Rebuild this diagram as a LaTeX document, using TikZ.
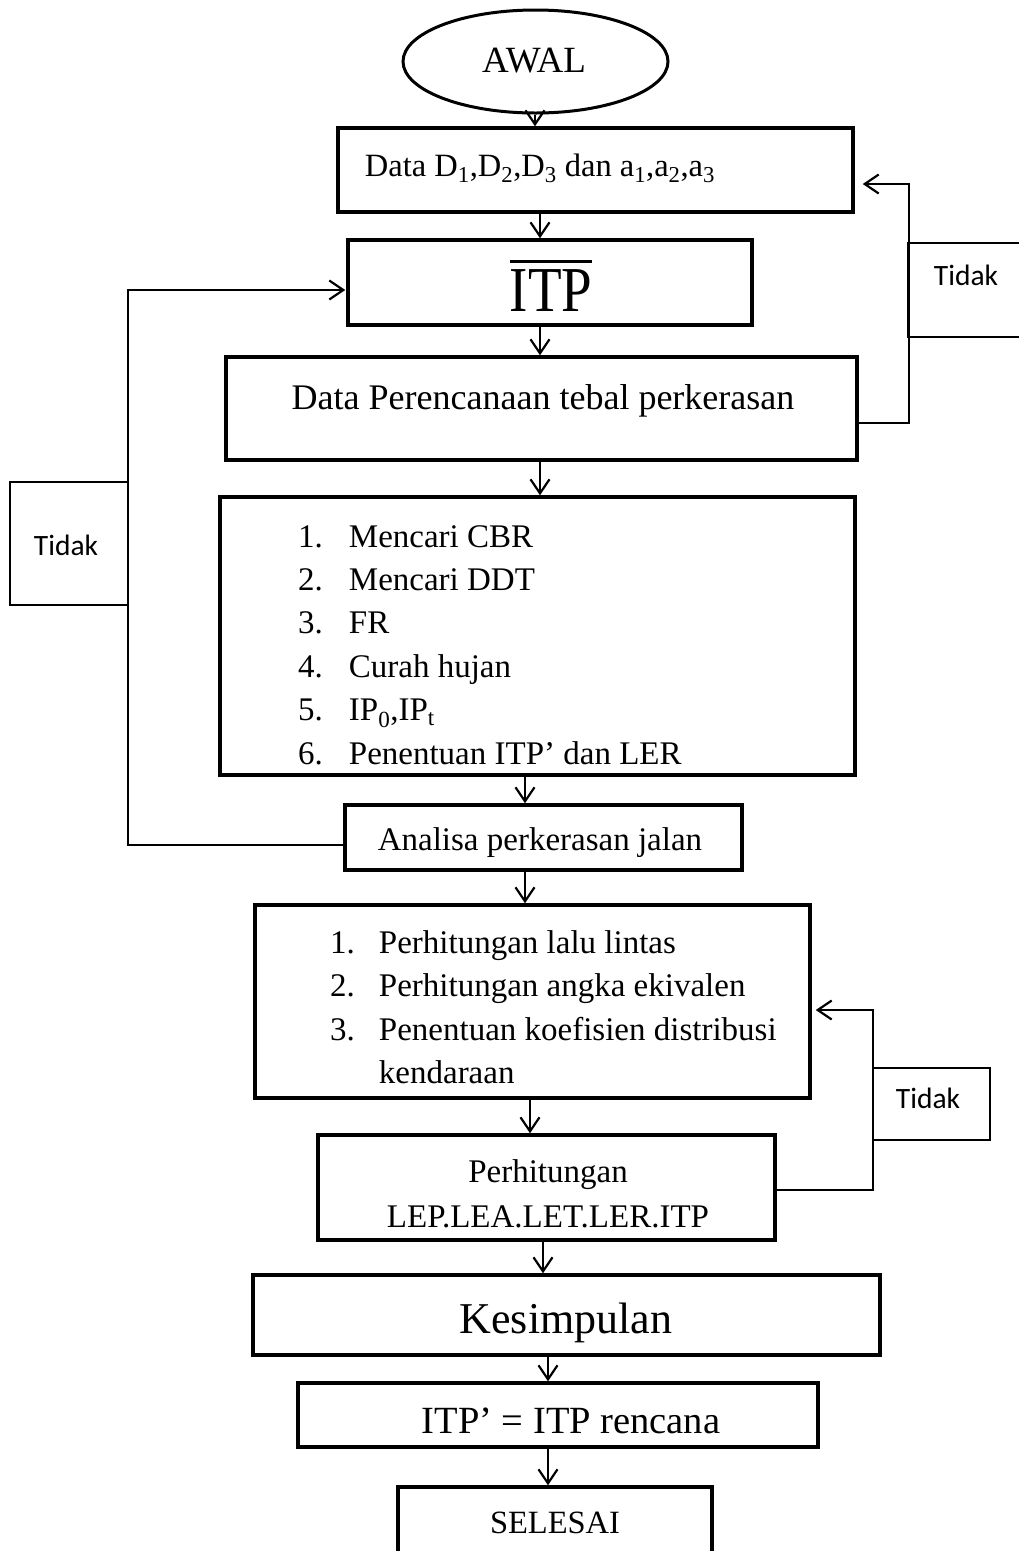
\documentclass[tikz,border=0pt]{standalone}
\usepackage{fontspec}
\usepackage{graphicx}
\setmainfont{Liberation Serif}
\newfontfamily\tidakfont{Carlito}
\usetikzlibrary{arrows.meta,shapes.geometric}
\tikzset{
  box/.style={draw, line width=3.5pt, rectangle, inner sep=0pt},
  tbox/.style={draw, line width=2pt, rectangle, inner sep=0pt},
  txt/.style={inner sep=0pt, anchor=base},
  arr/.style={line width=2.2pt, -{Straight Barb[length=14pt,width=19pt,line width=2.2pt]}},
}
\newcommand{\fs}[1]{\fontsize{#1}{#1}\selectfont}
\newcommand{\myovl}[1]{\begingroup\setbox0\hbox{#1}\rlap{\rule[48pt]{\wd0}{3pt}}\box0\endgroup}
\begin{document}
\begin{tikzpicture}[x=1pt,y=-1pt]
\useasboundingbox (0,0) rectangle (1019,1551);
% oval
\node[draw, line width=3pt, ellipse, minimum width=265pt, minimum height=103pt, inner sep=0pt] (awal) at (535.5,61.5) {};
\node[txt] (awalt) at (534,72) {\fs{37}AWAL};
% boxes
\node[box, minimum width=515pt, minimum height=84pt] (b1) at (595.5,170) {};
\node[txt] (b1t) at (540,176) {\fs{32.5}Data D\textsubscript{1},D\textsubscript{2},D\textsubscript{3} dan a\textsubscript{1},a\textsubscript{2},a\textsubscript{3}};
\node[box, minimum width=404pt, minimum height=85pt] (b2) at (550,282.5) {};
\node[txt] (b2t) at (551,311) {\scalebox{0.86}[1]{\fs{64}\myovl{ITP}}};
\node[box, minimum width=631pt, minimum height=103pt] (b3) at (541.5,408.5) {};
\node[txt] (b3t) at (543,409) {\fs{36}Data Perencanaan tebal perkerasan};
\node[box, minimum width=635pt, minimum height=278pt] (b4) at (537.5,636) {};
\node[inner sep=0pt, anchor=base west] (b4t) at (298,547) {\fontsize{33}{43.4}\selectfont
  \begin{tabular}[t]{@{}r@{\hspace{26pt}}l@{}}
  1. & Mencari CBR\\
  2. & Mencari DDT\\
  3. & FR\\
  4. & Curah hujan\\
  5. & IP\textsubscript{0},IP\textsubscript{t}\\
  6. & Penentuan ITP’ dan LER
  \end{tabular}};
\node[box, minimum width=397pt, minimum height=65pt] (b5) at (543.5,837.5) {};
\node[txt] (b5t) at (540,850) {\fs{33}Analisa perkerasan jalan};
\node[box, minimum width=555pt, minimum height=193pt] (b6) at (532.5,1001.5) {};
\node[inner sep=0pt, anchor=base west] (b6t) at (330,953) {\fontsize{33}{43.5}\selectfont
  \begin{tabular}[t]{@{}r@{\hspace{24pt}}l@{}}
  1. & Perhitungan lalu lintas\\
  2. & Perhitungan angka ekivalen\\
  3. & Penentuan koefisien distribusi\\
     & kendaraan
  \end{tabular}};
\node[box, minimum width=457pt, minimum height=105pt] (b7) at (546.5,1187.5) {};
\node[txt] (b7a) at (548,1182) {\fs{33}Perhitungan};
\node[txt] (b7b) at (548,1227) {\fs{33}LEP.LEA.LET.LER.ITP};
\node[box, minimum width=627pt, minimum height=80pt] (b8) at (566.5,1315) {};
\node[txt] (b8t) at (566,1333) {\fs{44}Kesimpulan};
\node[box, minimum width=520pt, minimum height=64pt] (b9) at (558,1415) {};
\node[txt] (b9t) at (571,1433) {\fs{38.5}ITP’ = ITP rencana};
\node[box, minimum width=314pt, minimum height=80pt] (b10) at (555,1527) {};
\node[txt] (b10t) at (555,1533) {\fs{32.5}SELESAI};
% Tidak boxes
\node[tbox, minimum width=120pt, minimum height=94pt] (t1) at (968,290) {};
\node[txt] (t1t) at (966,285) {\tidakfont\fs{29.5}Tidak};
\node[tbox, minimum width=118pt, minimum height=123pt] (t2) at (69,543.5) {};
\node[txt] (t2t) at (66,555) {\tidakfont\fs{29.5}Tidak};
\node[tbox, minimum width=117pt, minimum height=72pt] (t3) at (931.5,1104) {};
\node[txt] (t3t) at (928,1108) {\tidakfont\fs{29.5}Tidak};
% arrow columns
\coordinate (c1) at (535,0);
\coordinate (c2) at (540,0);
\coordinate (c3) at (525,0);
\coordinate (c4) at (530,0);
\coordinate (c5) at (543,0);
\coordinate (c6) at (548,0);
\draw[arr] (awal.south -| c1) -- (b1.north -| c1);
\draw[arr] (b1.south -| c2) -- (b2.north -| c2);
\draw[arr] (b2.south -| c2) -- (b3.north -| c2);
\draw[arr] (b3.south -| c2) -- (b4.north -| c2);
\draw[arr] (b4.south -| c3) -- (b5.north -| c3);
\draw[arr] (b5.south -| c3) -- (b6.north -| c3);
\draw[arr] (b6.south -| c4) -- (b7.north -| c4);
\draw[arr] (b7.south -| c5) -- (b8.north -| c5);
\draw[arr] (b8.south -| c6) -- (b9.north -| c6);
\draw[arr] (b9.south -| c6) -- (b10.north -| c6);
% feedback loops
\coordinate (r1) at (909,423);
\coordinate (r2) at (909,184);
\draw[arr, shorten >=8pt] (b3.east |- r1) -- (r1) -- (r2) -- (b1.east |- r2);
\coordinate (l1) at (128,845);
\coordinate (l2) at (128,290);
\draw[arr, shorten >=1pt] (b5.west |- l1) -- (l1) -- (l2) -- (b2.west |- l2);
\coordinate (q1) at (873,1190);
\coordinate (q2) at (873,1010);
\draw[arr, shorten >=4pt] (b7.east |- q1) -- (q1) -- (q2) -- (b6.east |- q2);
\end{tikzpicture}
\end{document}
